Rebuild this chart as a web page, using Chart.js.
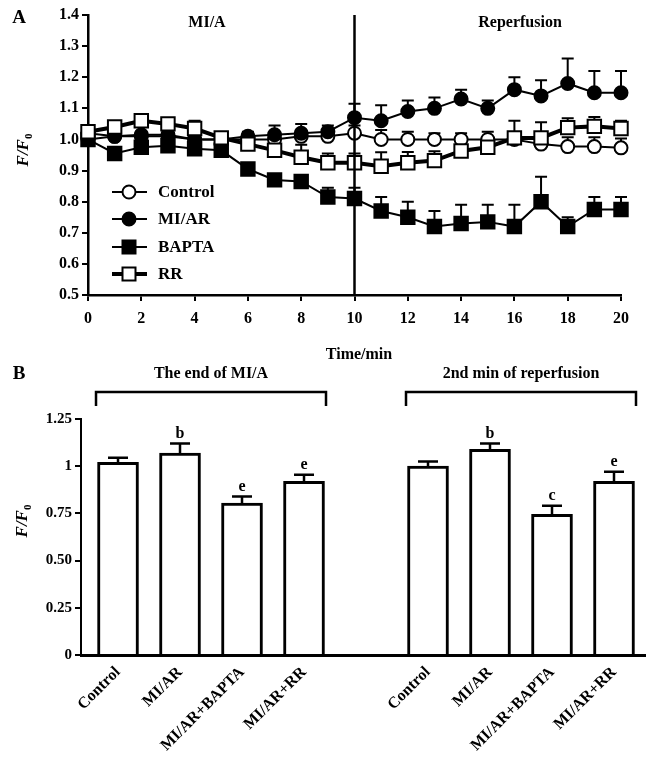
<!DOCTYPE html>
<html>
<head>
<meta charset="utf-8">
<script src="https://cdn.jsdelivr.net/npm/chart.js"></script>
<style>
  body { margin: 0; background: #fff; }
  #wrap { position: relative; width: 646px; height: 769px; }
  #chartA { position: absolute; left: 0; top: 0; }
  #chartB { position: absolute; left: 0; top: 362px; }
</style>
</head>
<body>
<div id="wrap">
  <canvas id="chartA" width="646" height="362"></canvas>
  <canvas id="chartB" width="646" height="407"></canvas>
</div>
<script>
const serif = "'Liberation Serif', 'Times New Roman', serif";

// Panel A - time course
const minutes = [0, 1, 2, 3, 4, 5, 6, 7, 8, 9, 10, 11, 12, 13, 14, 15, 16, 17, 18, 19, 20];
const control = [1.02, 1.01, 1.01, 1.01, 1.00, 1.00, 1.00, 1.00, 1.01, 1.01, 1.02, 1.00, 1.00, 1.00, 1.00, 1.00, 1.00, 0.985, 0.977, 0.977, 0.973];
const controlErr = [0.01, 0.015, 0.015, 0.015, 0.015, 0.01, 0.01, 0.015, 0.015, 0.015, 0.025, 0.03, 0.025, 0.02, 0.02, 0.025, 0.02, 0.02, 0.03, 0.03, 0.03];
const miar = [1.00, 1.01, 1.015, 1.015, 1.00, 1.00, 1.01, 1.015, 1.02, 1.025, 1.07, 1.06, 1.09, 1.10, 1.13, 1.10, 1.16, 1.14, 1.18, 1.15, 1.15];
const miarErr = [0.01, 0.01, 0.01, 0.015, 0.02, 0.01, 0.015, 0.03, 0.03, 0.02, 0.045, 0.05, 0.035, 0.035, 0.03, 0.025, 0.04, 0.05, 0.08, 0.07, 0.07];
const bapta = [1.00, 0.955, 0.975, 0.98, 0.97, 0.965, 0.905, 0.87, 0.865, 0.815, 0.81, 0.77, 0.75, 0.72, 0.73, 0.735, 0.72, 0.80, 0.72, 0.775, 0.775];
const baptaErr = [0.01, 0.02, 0.01, 0.01, 0.01, 0.01, 0.01, 0.01, 0.01, 0.03, 0.035, 0.045, 0.05, 0.05, 0.06, 0.055, 0.07, 0.08, 0.03, 0.04, 0.04];
const rr = [1.025, 1.04, 1.06, 1.05, 1.035, 1.005, 0.985, 0.965, 0.943, 0.925, 0.925, 0.914, 0.925, 0.932, 0.963, 0.975, 1.005, 1.005, 1.038, 1.042, 1.035];
const rrErr = [0.01, 0.01, 0.01, 0.01, 0.025, 0.01, 0.01, 0.02, 0.04, 0.03, 0.03, 0.045, 0.035, 0.03, 0.03, 0.03, 0.055, 0.05, 0.03, 0.03, 0.025];
const xTicksA = [0, 2, 4, 6, 8, 10, 12, 14, 16, 18, 20];
const yTicksA = [0.5, 0.6, 0.7, 0.8, 0.9, 1.0, 1.1, 1.2, 1.3, 1.4];

// Panel B - bars
const groupNames = ['The end of MI/A', '2nd min of reperfusion'];
const barLabels = ['Control', 'MI/AR', 'MI/AR+BAPTA', 'MI/AR+RR'];
const endMIA = [1.02, 1.07, 0.805, 0.92];
const endMIAErr = [0.025, 0.05, 0.035, 0.035];
const endMIALetters = ['', 'b', 'e', 'e'];
const reperf2 = [1.00, 1.09, 0.745, 0.92];
const reperf2Err = [0.025, 0.03, 0.045, 0.05];
const reperf2Letters = ['', 'b', 'c', 'e'];
const yTicksB = [0, 0.25, 0.5, 0.75, 1, 1.25];
const yTickLabelsB = ['0', '0.25', '0.50', '0.75', '1', '1.25'];

function points(vals) {
  return minutes.map((m, i) => ({ x: m, y: vals[i] }));
}

function drawFF(ctx, x, y) {
  ctx.save();
  ctx.translate(x, y);
  ctx.rotate(-Math.PI / 2);
  ctx.fillStyle = '#000';
  ctx.textBaseline = 'alphabetic';
  ctx.font = 'italic bold 17px ' + serif;
  const w1 = ctx.measureText('F/F').width;
  ctx.font = 'bold 11px ' + serif;
  const w2 = ctx.measureText('0').width;
  const start = -(w1 + w2) / 2;
  ctx.font = 'italic bold 17px ' + serif;
  ctx.fillText('F/F', start, 6);
  ctx.font = 'bold 11px ' + serif;
  ctx.fillText('0', start + w1, 10);
  ctx.restore();
}

const errorBars = {
  id: 'errorBars',
  beforeDatasetsDraw(chart, args, opts) {
    const ctx = chart.ctx;
    const y = chart.scales.y;
    chart.data.datasets.forEach((ds, di) => {
      if (!ds.errors) return;
      const meta = chart.getDatasetMeta(di);
      ctx.save();
      ctx.strokeStyle = '#000';
      ctx.lineWidth = opts.width;
      meta.data.forEach((el, i) => {
        const top = y.getPixelForValue(ds.data[i].y + ds.errors[i]);
        ctx.beginPath();
        ctx.moveTo(el.x, el.y);
        ctx.lineTo(el.x, top);
        ctx.moveTo(el.x - opts.cap / 2, top);
        ctx.lineTo(el.x + opts.cap / 2, top);
        ctx.stroke();
      });
      ctx.restore();
    });
  }
};

const annotA = {
  id: 'annotA',
  afterDraw(chart) {
    const ctx = chart.ctx;
    const x = chart.scales.x, a = chart.chartArea;
    ctx.save();
    // start of reperfusion
    ctx.strokeStyle = '#000';
    ctx.lineWidth = 2.5;
    ctx.beginPath();
    ctx.moveTo(x.getPixelForValue(10), a.top);
    ctx.lineTo(x.getPixelForValue(10), a.bottom);
    ctx.stroke();

    ctx.fillStyle = '#000';
    ctx.textAlign = 'center';
    ctx.textBaseline = 'middle';
    ctx.font = 'bold 16px ' + serif;
    ctx.fillText('MI/A', 207, 23);
    ctx.fillText('Reperfusion', 520, 23);
    ctx.fillText('Time/min', 359, 355);
    ctx.font = 'bold 19px ' + serif;
    ctx.fillText('A', 19, 18);

    // legend
    const rows = [
      { name: 'Control', y: 192, style: 'circle', fill: '#fff', line: 2 },
      { name: 'MI/AR', y: 219, style: 'circle', fill: '#000', line: 2 },
      { name: 'BAPTA', y: 247, style: 'rect', fill: '#000', line: 2 },
      { name: 'RR', y: 274, style: 'rect', fill: '#fff', line: 4 }
    ];
    rows.forEach(r => {
      ctx.lineWidth = r.line;
      ctx.beginPath();
      ctx.moveTo(112, r.y);
      ctx.lineTo(147, r.y);
      ctx.stroke();
      ctx.lineWidth = 2;
      ctx.fillStyle = r.fill;
      ctx.beginPath();
      if (r.style === 'circle') ctx.arc(129, r.y, 6.5, 0, Math.PI * 2);
      else ctx.rect(122.5, r.y - 6.5, 13, 13);
      ctx.fill();
      ctx.stroke();
      ctx.fillStyle = '#000';
      ctx.textAlign = 'left';
      ctx.font = 'bold 17px ' + serif;
      ctx.fillText(r.name, 158, r.y + 1);
    });
    ctx.restore();
    drawFF(ctx, 22, 150);
  }
};

const tickFont = { family: serif, size: 16, weight: 'bold' };

function seriesA(label, vals, errs, style, fill, lineW, radius) {
  return {
    label: label,
    data: points(vals),
    errors: errs,
    showLine: true,
    borderColor: '#000',
    borderWidth: lineW,
    pointStyle: style,
    pointRadius: radius,
    pointHoverRadius: radius,
    pointBackgroundColor: fill,
    pointBorderColor: '#000',
    pointBorderWidth: 2,
    clip: false
  };
}

new Chart(document.getElementById('chartA'), {
  type: 'scatter',
  data: {
    datasets: [
      seriesA('RR', rr, rrErr, 'rect', '#fff', 4, 9.5),
      seriesA('MI/AR', miar, miarErr, 'circle', '#000', 2, 6.5),
      seriesA('BAPTA', bapta, baptaErr, 'rect', '#000', 2, 9.5),
      seriesA('Control', control, controlErr, 'circle', '#fff', 2, 6.5)
    ]
  },
  options: {
    responsive: false,
    animation: false,
    layout: { padding: { top: 15, right: 25, left: 0, bottom: 0 } },
    plugins: {
      legend: { display: false },
      tooltip: { enabled: false },
      errorBars: { cap: 12, width: 2 }
    },
    scales: {
      x: {
        type: 'linear',
        min: 0,
        max: 20,
        afterBuildTicks: s => { s.ticks = xTicksA.map(v => ({ value: v })); },
        afterFit: s => { s.height = 67; },
        ticks: { color: '#000', font: tickFont, padding: 8, maxRotation: 0 },
        grid: { drawOnChartArea: false, color: '#000', lineWidth: 2, tickLength: 6 },
        border: { color: '#000', width: 2.5 }
      },
      y: {
        min: 0.5,
        max: 1.4,
        afterBuildTicks: s => { s.ticks = yTicksA.map(v => ({ value: v })); },
        afterFit: s => { s.width = 88; },
        ticks: { color: '#000', font: tickFont, padding: 3, callback: v => v.toFixed(1) },
        grid: { drawOnChartArea: false, color: '#000', lineWidth: 2, tickLength: 6 },
        border: { color: '#000', width: 2.5 }
      }
    }
  },
  plugins: [errorBars, annotA]
});

// Panel B: first group at positions 0..3, second at 5..8, slot 4 left empty
const barPos = [0, 1, 2, 3, 5, 6, 7, 8];
const barVals = endMIA.concat(reperf2);
const barErrs = endMIAErr.concat(reperf2Err);
const barLetters = endMIALetters.concat(reperf2Letters);
const barNames = barLabels.concat(barLabels);

const annotB = {
  id: 'annotB',
  afterDraw(chart) {
    const ctx = chart.ctx;
    const x = chart.scales.x, y = chart.scales.y;
    const meta = chart.getDatasetMeta(0);
    ctx.save();
    ctx.fillStyle = '#000';
    ctx.strokeStyle = '#000';
    ctx.textAlign = 'center';
    // significance letters
    ctx.font = 'bold 16px ' + serif;
    ctx.textBaseline = 'bottom';
    meta.data.forEach((el, i) => {
      if (!barLetters[i]) return;
      const top = y.getPixelForValue(barVals[i] + barErrs[i]);
      ctx.fillText(barLetters[i], el.x, top - 2);
    });
    // group brackets
    ctx.lineWidth = 2.5;
    [[0, 3], [5, 8]].forEach((g, gi) => {
      const l = x.getPixelForValue(g[0]) - 22;
      const r = x.getPixelForValue(g[1]) + 22;
      ctx.beginPath();
      ctx.moveTo(l, 44);
      ctx.lineTo(l, 30);
      ctx.lineTo(r, 30);
      ctx.lineTo(r, 44);
      ctx.stroke();
      ctx.textBaseline = 'middle';
      ctx.font = 'bold 16px ' + serif;
      ctx.fillText(groupNames[gi], (l + r) / 2, 12);
    });
    ctx.font = 'bold 19px ' + serif;
    ctx.fillText('B', 19, 12);
    ctx.restore();
    drawFF(ctx, 21, 521 - 362);
  }
};

new Chart(document.getElementById('chartB'), {
  type: 'bar',
  data: {
    datasets: [{
      data: barPos.map((p, i) => ({ x: p, y: barVals[i] })),
      errors: barErrs,
      backgroundColor: '#fff',
      borderColor: '#000',
      borderWidth: 3,
      barThickness: 41
    }]
  },
  options: {
    responsive: false,
    animation: false,
    layout: { padding: { top: 57, right: 1, left: 0, bottom: 0 } },
    plugins: {
      legend: { display: false },
      tooltip: { enabled: false },
      errorBars: { cap: 20, width: 2.5 }
    },
    scales: {
      x: {
        type: 'linear',
        offset: false,
        min: -0.597,
        max: 8.5,
        afterBuildTicks: s => { s.ticks = barPos.map(v => ({ value: v })); },
        afterFit: s => { s.height = 114; },
        ticks: {
          color: '#000',
          font: { family: serif, size: 16, weight: 'bold' },
          padding: 8,
          autoSkip: false,
          minRotation: 45,
          maxRotation: 45,
          callback: v => barNames[barPos.indexOf(v)]
        },
        grid: { drawOnChartArea: false, drawTicks: false, color: '#000' },
        border: { color: '#000', width: 3 }
      },
      y: {
        min: 0,
        max: 1.25,
        afterBuildTicks: s => { s.ticks = yTicksB.map(v => ({ value: v })); },
        afterFit: s => { s.width = 81; },
        ticks: {
          color: '#000',
          font: { family: serif, size: 15, weight: 'bold' },
          padding: 3,
          callback: v => yTickLabelsB[yTicksB.indexOf(v)]
        },
        grid: { drawOnChartArea: false, color: '#000', lineWidth: 2, tickLength: 6 },
        border: { color: '#000', width: 2 }
      }
    }
  },
  plugins: [errorBars, annotB]
});
</script>
</body>
</html>
